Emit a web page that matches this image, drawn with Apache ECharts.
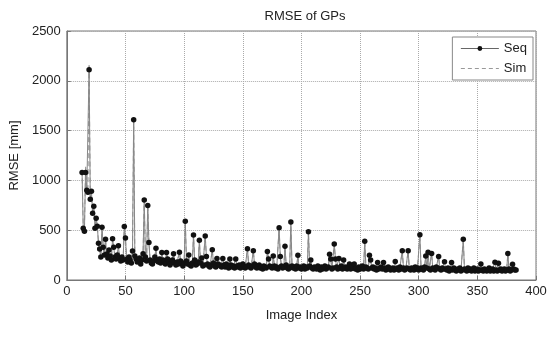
<!DOCTYPE html>
<html><head><meta charset="utf-8">
<script src="https://cdn.jsdelivr.net/npm/echarts@6/dist/echarts.min.js"></script>
<style>html,body{margin:0;padding:0;background:#fff}#c{width:557px;height:344px}</style>
</head><body><div id="c"></div>
<script>
// Image indices start at 13 and run consecutively
const firstIndex = 13;
const seqValues = [
1080,520,490,1080,900,880,2110,810,890,670,
740,520,620,540,370,310,230,530,330,250,
409,260,220,300,240,200,415,330,230,210,
250,345,220,190,230,200,536,421,210,180,
230,200,170,290,1609,240,210,180,190,220,
160,200,264,803,230,190,748,376,200,170,
160,190,230,318,200,180,210,170,276,200,
190,160,276,210,180,150,170,200,264,170,
150,180,160,279,190,160,140,170,591,190,
160,250,150,140,170,451,200,150,160,180,
400,170,221,140,150,442,236,160,140,130,
150,303,170,140,130,215,160,150,140,130,
215,150,130,160,140,120,210,150,130,140,
120,210,140,130,150,120,130,160,140,120,
130,315,150,130,120,140,294,160,130,120,
140,150,120,130,110,140,130,120,285,212,
140,130,120,242,140,120,130,110,524,236,
140,120,130,339,150,120,110,130,582,140,
120,130,110,140,248,120,130,110,120,140,
110,130,120,485,140,200,120,110,130,120,
110,140,120,100,130,110,120,140,110,120,
130,258,212,110,120,361,212,130,110,215,
120,140,110,200,120,130,110,120,160,110,
130,120,160,110,120,100,130,110,120,140,
110,388,130,120,110,248,200,120,130,110,
120,100,175,110,120,130,110,175,120,100,
110,130,120,100,110,120,100,185,110,120,
100,130,110,294,120,100,110,120,294,110,
100,120,110,100,130,110,120,100,455,120,
110,100,130,242,120,279,110,100,267,120,
110,100,130,120,236,110,100,120,110,182,
110,100,120,90,110,176,100,120,110,90,
100,110,120,90,100,409,110,100,90,120,
100,110,90,100,120,90,100,110,90,100,
160,100,90,110,100,90,100,120,90,100,
110,90,179,100,90,167,100,110,90,100,
110,90,100,267,110,90,100,158,110,100,
100
];
// Sim differs from Seq only at these image indices
const simIdx = [13, 16, 17, 18, 19, 20, 21];
const simVal = [1100, 1150, 960, 900, 2170, 840, 900];

const xTicks = [0,50,100,150,200,250,300,350,400];
const yTicks = [0,500,1000,1500,2000,2500];

const seqData = seqValues.map((v,i)=>[firstIndex+i, v]);
const simData = seqValues.map((v,i)=>{
  const x = firstIndex+i; const k = simIdx.indexOf(x);
  return [x, k>=0 ? simVal[k] : v];
});

const chart = echarts.init(document.getElementById('c'), null, {renderer:'canvas'});
const font = 'Liberation Sans, Arial, sans-serif';
chart.setOption({
  animation:false,
  backgroundColor:'#fff',
  title:{text:'RMSE of GPs', left:300, textAlign:'center', top:5,
    textStyle:{fontFamily:font,fontSize:13,fontWeight:'normal',color:'#222'}},
  grid:{left:64,right:21,top:31,bottom:64,show:true,borderColor:'#777',borderWidth:1,backgroundColor:'#fff'},
  legend:{orient:'vertical', right:24, top:37, padding:[5,6,5,8],
    borderColor:'#888', borderWidth:1, backgroundColor:'#fff',
    itemWidth:38, itemHeight:6, itemGap:7,
    textStyle:{fontFamily:font,fontSize:13,color:'#222'},
    data:[
      {name:'Seq', itemStyle:{color:'#111'}, lineStyle:{width:1,color:'#666'}},
      {name:'Sim', itemStyle:{opacity:0}, lineStyle:{width:1,color:'#999',type:[4,3]}}
    ]},
  xAxis:{type:'value', min:xTicks[0], max:xTicks[xTicks.length-1], interval:50,
    name:'Image Index', nameLocation:'middle', nameGap:29,
    nameTextStyle:{fontFamily:font,fontSize:13,color:'#222'},
    axisLine:{show:true,lineStyle:{color:'#777'}},
    axisTick:{show:true,inside:true,length:4,lineStyle:{color:'#777'}},
    axisLabel:{fontFamily:font,fontSize:13,color:'#222',margin:5},
    splitLine:{show:true,lineStyle:{type:'dotted',color:'#aaa'}}},
  yAxis:{type:'value', min:yTicks[0], max:yTicks[yTicks.length-1], interval:500,
    name:'RMSE [mm]', nameLocation:'middle', nameGap:38,
    nameTextStyle:{fontFamily:font,fontSize:13,color:'#222'},
    axisLine:{show:true,lineStyle:{color:'#777'}},
    axisTick:{show:true,inside:true,length:4,lineStyle:{color:'#777'}},
    axisLabel:{fontFamily:font,fontSize:13,color:'#222',margin:6,formatter:v=>String(v)},
    splitLine:{show:true,lineStyle:{type:'dotted',color:'#aaa'}}},
  series:[
    {name:'Seq', type:'line', data:seqData, showSymbol:true, showAllSymbol:true,
      symbol:'circle', symbolSize:5.5, itemStyle:{color:'#111'},
      lineStyle:{color:'#888',width:1}, z:3},
    {name:'Sim', type:'line', data:simData, symbol:'none', showSymbol:false,
      itemStyle:{color:'#999'},
      lineStyle:{color:'#999',width:1,type:[5,3]}, z:2}
  ]
});
</script></body></html>
